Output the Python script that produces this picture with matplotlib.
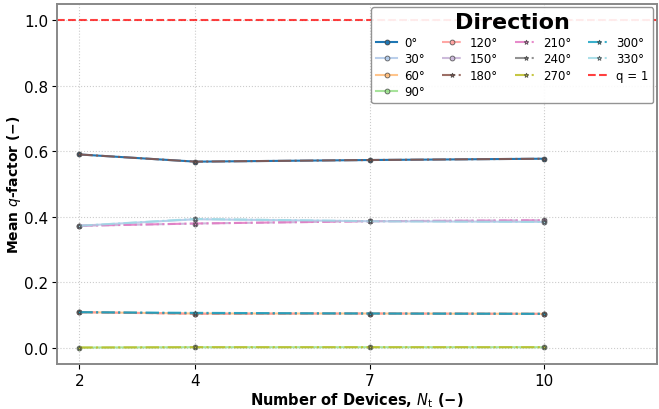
import matplotlib
matplotlib.use('Agg')
import matplotlib.pyplot as plt
import numpy as np

## Number of devices
n_devices = [2, 4, 7, 10]

## Direction labels (degrees)
directions = [0, 30, 60, 90, 120, 150, 180, 210, 240, 270, 300, 330]

## Mean q-factor per direction
q_0 = [0.590, 0.568, 0.573, 0.577]
q_30 = [0.372, 0.392, 0.386, 0.384]
q_60 = [0.108, 0.104, 0.104, 0.103]
q_90 = [0.000, 0.001, 0.001, 0.001]
q_120 = [0.108, 0.103, 0.104, 0.103]
q_150 = [0.372, 0.379, 0.386, 0.389]
q_180 = [0.590, 0.568, 0.573, 0.577]
q_210 = [0.372, 0.379, 0.386, 0.389]
q_240 = [0.108, 0.104, 0.104, 0.103]
q_270 = [0.000, 0.001, 0.001, 0.001]
q_300 = [0.108, 0.106, 0.104, 0.103]
q_330 = [0.372, 0.393, 0.386, 0.384]

q_all = [q_0, q_30, q_60, q_90, q_120, q_150, q_180, q_210, q_240, q_270, q_300, q_330]

colors = ['#1f77b4', '#aec7e8', '#ffbb78', '#98df8a', '#ff9896', '#c5b0d5',
          '#8c564b', '#e377c2', '#7f7f7f', '#bcbd22', '#17a2c4', '#9edae5']
styles = ['-', '-', '-', '-', '--', '--', '-.', '-.', '-.', '-.', '-.', '-.']
markers = ['o', 'o', 'o', 'o', 'o', 'o', '*', '*', '*', '*', '*', '*']

fig = plt.figure(figsize=(6.59, 4.10), dpi=100)
ax = fig.add_axes([0.087, 0.11, 0.91, 0.878])

for i, d in enumerate(directions):
    alpha = 1.0 if i == 0 else 0.85
    ax.plot(n_devices, q_all[i], linestyle=styles[i], marker=markers[i], color=colors[i],
            markersize=3.5, markeredgecolor='#444444', markeredgewidth=0.6,
            linewidth=1.5, alpha=alpha, label='{}°'.format(d))

ax.axhline(1.0, color='red', linestyle='--', linewidth=1.5, alpha=0.75, label='q = 1')

ax.set_xticks(n_devices)
ax.set_xlim(1.62, 11.95)
ax.set_ylim(-0.05, 1.05)
ax.tick_params(labelsize=11, pad=3)
ax.grid(True, linestyle=':', color='#cccccc', linewidth=0.8)
for s in ax.spines.values():
    s.set_color('#888888')
    s.set_linewidth(1.4)

ax.set_xlabel('Number of Devices, $N_\\mathrm{t}$ (−)', fontweight='bold', fontsize=10.5, labelpad=2)
ax.set_ylabel('Mean $q$-factor (−)', fontweight='bold', fontsize=10, labelpad=1)

leg = ax.legend(title='Direction', ncol=4, loc='upper right', fontsize=8.5,
                handlelength=1.8, handletextpad=0.6, columnspacing=1.4, labelspacing=0.3,
                framealpha=0.9, edgecolor='#888888', borderaxespad=0.3)
leg.get_title().set_fontweight('bold')
leg.get_title().set_fontsize(16)

plt.savefig('out.png', dpi=100)
